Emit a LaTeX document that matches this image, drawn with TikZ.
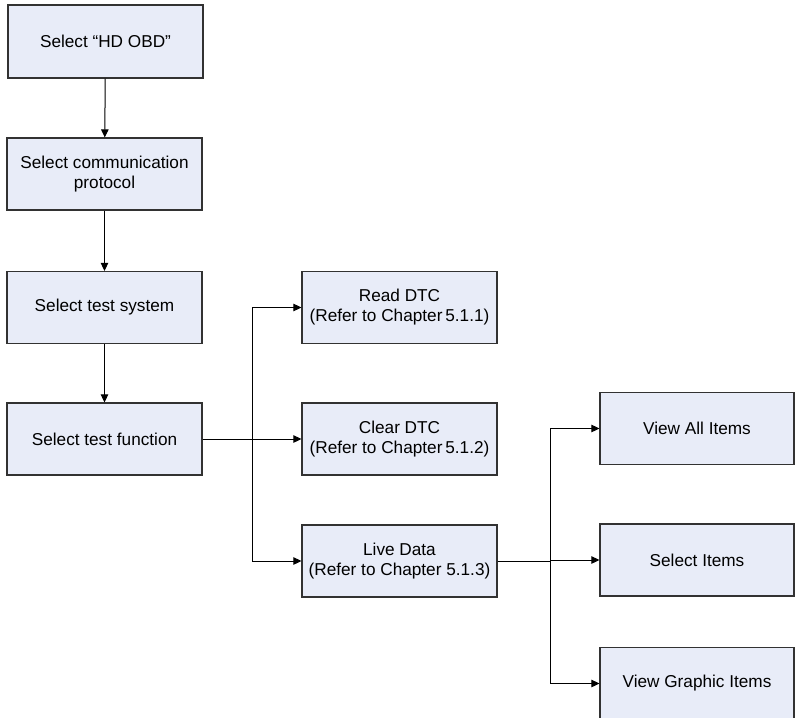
\documentclass[tikz,border=0pt]{standalone}
\usepackage{fontspec}
\setmainfont{Liberation Sans}
\usetikzlibrary{arrows.meta}
\definecolor{boxfill}{RGB}{232,236,248}
\definecolor{boxedge}{RGB}{50,50,50}
\begin{document}
\begin{tikzpicture}[x=1bp,y=-1bp,
  flowbox/.style={draw=boxedge, line width=1.2bp, fill=boxfill, rectangle,
    minimum width=195bp, minimum height=72bp, inner sep=2bp, align=center,
    font=\fontsize{17.2bp}{20bp}\selectfont},
  conn/.style={draw=black, line width=1bp},
  arr/.style={conn, -{Triangle[length=8bp,width=7.5bp]}}]
\useasboundingbox (0,0) rectangle (795,718);
\node[flowbox, minimum height=73bp] (b1) at (105.5,41.5) {Select “HD OBD”};
\node[flowbox] (b2) at (104.5,174) {Select communication\\protocol};
\node[flowbox] (b3) at (104.5,307.5) {Select test system};
\node[flowbox] (b4) at (104.5,439) {Select test function};
\node[flowbox] (read) at (399.5,307.5) {Read DTC\\(Refer to Chapter\,5.1.1)};
\node[flowbox] (clear) at (399.5,439) {Clear DTC\\(Refer to Chapter\,5.1.2)};
\node[flowbox] (live) at (399.5,561) {Live Data\\(Refer to Chapter 5.1.3)};
\node[flowbox, minimum width=194bp] (all) at (697,428.5) {View All Items};
\node[flowbox, minimum width=194bp] (sel) at (697,560) {Select Items};
\node[flowbox, minimum width=194bp] (graph) at (697,683.5) {View Graphic Items};
\coordinate (j1) at (252,439);
\coordinate (j2) at (550,561);
\draw[arr] (b1) -- (b2);
\draw[arr] (b2) -- (b3);
\draw[arr] (b3) -- (b4);
\draw[arr] (b4.east) -- (clear.west);
\draw[arr] (j1) |- (read.west);
\draw[arr] (j1) |- (live.west);
\draw[conn] (live.east) -- (j2);
\draw[arr] (j2) |- (all.west);
\draw[arr] (j2) |- (sel.west);
\draw[arr] (j2) |- (graph.west);
\end{tikzpicture}
\end{document}
